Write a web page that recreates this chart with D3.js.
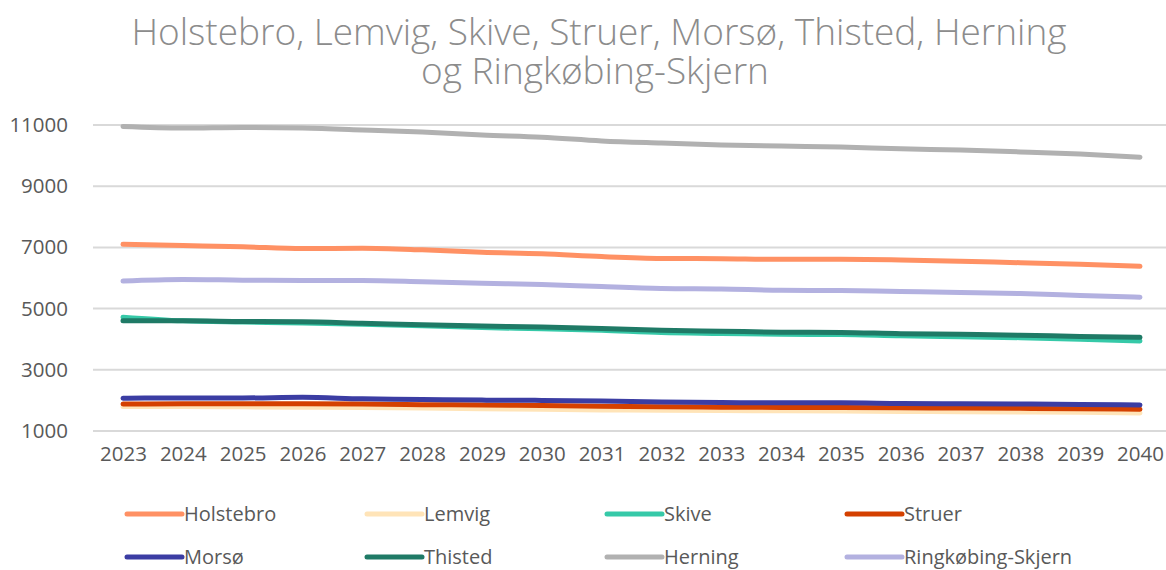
<!DOCTYPE html>
<html>
<head>
<meta charset="utf-8">
<script src="https://cdn.jsdelivr.net/npm/d3@7"></script>
<style>
  body { margin: 0; background: #fff; }
  svg { display: block; }
</style>
</head>
<body>
<div class="chart"></div>
<script>
// data
const years = [2023, 2024, 2025, 2026, 2027, 2028, 2029, 2030, 2031, 2032, 2033, 2034, 2035, 2036, 2037, 2038, 2039, 2040];
const yTicks = [1000, 3000, 5000, 7000, 9000, 11000];

const holstebro = [7100, 7060, 7020, 6960, 6970, 6920, 6840, 6790, 6700, 6640, 6630, 6610, 6610, 6590, 6550, 6500, 6450, 6380];
const lemvig = [1800, 1800, 1790, 1780, 1770, 1750, 1730, 1710, 1690, 1680, 1670, 1660, 1650, 1640, 1630, 1620, 1610, 1590];
const skive = [4720, 4600, 4560, 4530, 4490, 4440, 4380, 4340, 4290, 4220, 4190, 4160, 4150, 4110, 4080, 4050, 4000, 3940];
const struer = [1880, 1890, 1890, 1890, 1880, 1860, 1850, 1830, 1810, 1790, 1780, 1770, 1770, 1760, 1750, 1740, 1730, 1710];
const morso = [2070, 2080, 2080, 2100, 2050, 2030, 2010, 2000, 1980, 1950, 1930, 1920, 1920, 1900, 1890, 1880, 1870, 1850];
const thisted = [4600, 4600, 4580, 4570, 4520, 4470, 4430, 4400, 4350, 4290, 4260, 4230, 4220, 4180, 4160, 4130, 4090, 4060];
const herning = [10950, 10900, 10920, 10900, 10840, 10770, 10670, 10600, 10480, 10410, 10350, 10310, 10280, 10220, 10180, 10120, 10050, 9950];
const ringkobing = [5900, 5950, 5930, 5920, 5920, 5880, 5830, 5790, 5720, 5660, 5640, 5600, 5590, 5560, 5530, 5490, 5430, 5370];

const seriesNames = ["Holstebro", "Lemvig", "Skive", "Struer", "Morsø", "Thisted", "Herning", "Ringkøbing-Skjern"];
const seriesValues = [holstebro, lemvig, skive, struer, morso, thisted, herning, ringkobing];
const seriesColors = ["#FF9164", "#FFE4B8", "#36C9A8", "#D44000", "#3B3DA3", "#1F7A66", "#B1B1B1", "#B3B1E0"];

const width = 1166;
const height = 570;

const svg = d3.select(".chart")
    .append("svg")
    .attr("width", width)
    .attr("height", height);

// 標題
const title = svg.append("text")
    .attr("text-anchor", "middle")
    .style("font-family", "'Open Sans', sans-serif")
    .style("font-weight", "300")
    .style("font-size", "37px")
    .style("fill", "#8c8c8c");
title.append("tspan").attr("x", 599).attr("y", 45).text("Holstebro, Lemvig, Skive, Struer, Morsø, Thisted, Herning");
title.append("tspan").attr("x", 595).attr("y", 84).text("og Ringkøbing-Skjern");

// scales
const xScale = d3.scalePoint()
    .domain(years)
    .range([123, 1140]);

const yScale = d3.scaleLinear()
    .domain([1000, 11000])
    .range([431, 125]);

// gridlines
svg.append("g")
    .selectAll("line")
    .data(yTicks)
    .join("line")
    .attr("x1", 93)
    .attr("x2", width)
    .attr("y1", d => yScale(d))
    .attr("y2", d => yScale(d))
    .attr("stroke", "#d9d9d9")
    .attr("stroke-width", 2);

// y axis
const yAxis = d3.axisLeft(yScale).tickValues(yTicks).tickSize(0).tickPadding(0).tickFormat(d3.format("d"));
const yAxisGroup = svg.append("g")
    .attr("transform", "translate(68,0)")
    .call(yAxis);
yAxisGroup.select(".domain").remove();
yAxisGroup.selectAll("text")
    .style("font-family", "'Open Sans', sans-serif")
    .style("font-size", "20.5px")
    .style("fill", "#595959");

// x axis
const xAxis = d3.axisBottom(xScale).tickSize(0).tickPadding(0);
const xAxisGroup = svg.append("g")
    .attr("transform", "translate(0,446)")
    .call(xAxis);
xAxisGroup.select(".domain").remove();
xAxisGroup.selectAll("text")
    .style("font-family", "'Open Sans', sans-serif")
    .style("font-size", "20.5px")
    .style("fill", "#595959");

// lines
const line = d3.line()
    .x((d, i) => xScale(years[i]))
    .y(d => yScale(d))
    .curve(d3.curveMonotoneX);

svg.append("g")
    .selectAll("path")
    .data(seriesValues)
    .join("path")
    .attr("d", d => line(d))
    .attr("fill", "none")
    .attr("stroke", (d, i) => seriesColors[i])
    .attr("stroke-width", 5)
    .attr("stroke-linecap", "round")
    .attr("stroke-linejoin", "round");

// legend
const legend = svg.append("g")
    .selectAll("g")
    .data(seriesNames)
    .join("g")
    .attr("transform", (d, i) => `translate(${125 + (i % 4) * 240},${i < 4 ? 514 : 557})`);

legend.append("line")
    .attr("x1", 2)
    .attr("x2", 57)
    .attr("y1", 0)
    .attr("y2", 0)
    .attr("stroke", (d, i) => seriesColors[i])
    .attr("stroke-width", 5)
    .attr("stroke-linecap", "round");

legend.append("text")
    .attr("x", 59)
    .attr("y", 7)
    .style("font-family", "'Liberation Sans Narrow', 'Open Sans', sans-serif")
    .style("font-size", "20px")
    .style("fill", "#595959")
    .text(d => d);
</script>
</body>
</html>
